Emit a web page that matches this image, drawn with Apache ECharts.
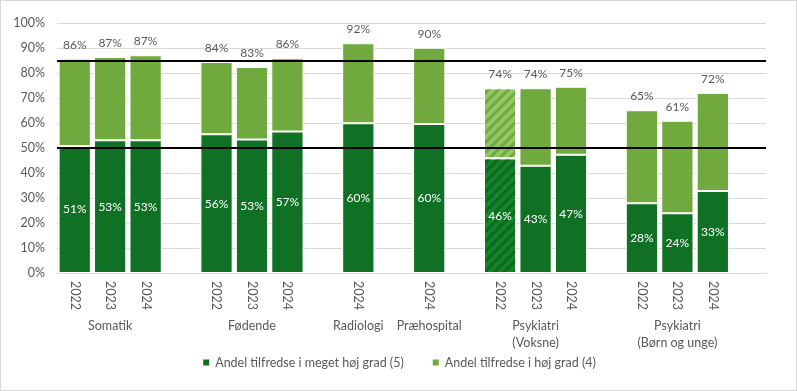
<!DOCTYPE html>
<html>
<head>
<meta charset="utf-8">
<script src="https://cdn.jsdelivr.net/npm/echarts@6/dist/echarts.min.js"></script>
<style>
html,body{margin:0;padding:0;background:#fff;}
#c{width:797px;height:391px;box-sizing:border-box;border:1px solid #d9d9d9;}
</style>
</head>
<body>
<div id="c"></div>
<script>
// Year labels per slot ('' = spacer slot between groups)
const years = ['2022','2023','2024','','2022','2023','2024','','2024','','2024','','2022','2023','2024','','2022','2023','2024',''];
// Group labels (placed under the middle bar of each group)
const groups = ['','Somatik','','','','Fødende','','','Radiologi','','Præhospital','','','Psykiatri\n(Voksne)','','','','Psykiatri\n(Børn og unge)','',''];
// Andel tilfredse i meget høj grad (5)
const veryHigh = [50.8,53.1,53.1,null,55.5,53.4,56.6,null,59.9,null,59.6,null,45.9,42.9,47.3,null,27.9,23.9,32.8,null];
// Andel tilfredse i høj grad (4)
const high = [34.9,33.3,34.0,null,28.9,29.0,29.3,null,32.0,null,30.5,null,28.0,31.0,27.2,null,37.2,37.0,39.2,null];
// Total labels shown above the bars
const totals = ['86%','87%','87%','','84%','83%','86%','','92%','','90%','','74%','74%','75%','','65%','61%','72%',''];
// Hatched (pattern) slots
const hatched = [12];
// Reference lines
const refLines = [85, 50];
const yTicks = {min:0, max:100, interval:10};

const DARK = '#107024', LIGHT = '#70a93e';
const FONT = 'Lato';
const TXT = '#595959';

function decalFor(color){
  return {symbol:'rect', symbolSize:1, dashArrayX:[1,0], dashArrayY:[3,4], rotation:-Math.PI/4, color:color};
}
const darkData = veryHigh.map((v,i)=> hatched.includes(i) ? {value:v, itemStyle:{color:'#138428', decal:decalFor('rgba(16,100,36,0.9)')}} : v);
const lightData = high.map((v,i)=> hatched.includes(i) ? {value:v, itemStyle:{color:'#93c765', decal:decalFor('rgba(112,169,62,0.95)')}} : v);

const chart = echarts.init(document.getElementById('c'));
chart.setOption({
  animation:false,
  textStyle:{fontFamily:FONT},
  grid:{left:56, right:30, top:22, bottom:117, containLabel:false},
  legend:{
    bottom:16, left:'center', icon:'rect', itemWidth:8, itemHeight:8, itemGap:27,
    textStyle:{color:TXT, fontSize:12.5, fontFamily:FONT},
    data:['Andel tilfredse i meget høj grad (5)','Andel tilfredse i høj grad (4)']
  },
  xAxis:[{
    type:'category', data:years, position:'bottom',
    axisLine:{show:true, lineStyle:{color:'#d9d9d9', width:1}},
    axisTick:{show:false},
    axisLabel:{interval:0, rotate:-90, margin:8, color:TXT, fontSize:12.5, fontFamily:FONT}
  },{
    type:'category', data:groups, position:'bottom', offset:44,
    axisLine:{show:false}, axisTick:{show:false},
    axisLabel:{interval:0, margin:0, color:TXT, fontSize:12.5, lineHeight:17, fontFamily:FONT, verticalAlign:'top'}
  }],
  yAxis:{
    type:'value', min:yTicks.min, max:yTicks.max, interval:yTicks.interval,
    axisLabel:{formatter:'{value}%', color:TXT, fontSize:12.5, margin:12, fontFamily:FONT},
    axisLine:{show:false}, axisTick:{show:false},
    splitLine:{lineStyle:{color:'#d9d9d9', width:1}}
  },
  series:[{
    name:'Andel tilfredse i meget høj grad (5)', type:'bar', stack:'s', xAxisIndex:0,
    data:darkData, barCategoryGap:'9%',
    itemStyle:{color:DARK, borderColor:'#ffffff', borderWidth:1},
    label:{show:true, position:'inside', color:'#ffffff', fontSize:12, fontFamily:FONT,
      formatter:p=> p.value==null ? '' : Math.round(p.value)+'%'},
    markLine:{silent:true, symbol:['none','none'], label:{show:false},
      lineStyle:{color:'#000000', width:2, type:'solid'},
      data:refLines.map(v=>({yAxis:v}))}
  },{
    name:'Andel tilfredse i høj grad (4)', type:'bar', stack:'s', xAxisIndex:0,
    data:lightData, barCategoryGap:'9%',
    itemStyle:{color:LIGHT, borderColor:'#ffffff', borderWidth:1},
    label:{show:true, position:'top', distance:8, color:TXT, fontSize:12, fontFamily:FONT,
      formatter:p=> totals[p.dataIndex]}
  }]
});
</script>
</body>
</html>
